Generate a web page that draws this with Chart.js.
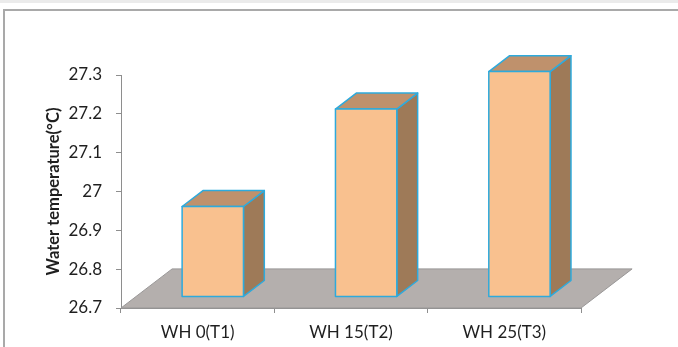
<!DOCTYPE html>
<html>
<head>
<meta charset="utf-8">
<script src="https://cdn.jsdelivr.net/npm/chart.js@4.4.1/dist/chart.umd.min.js"></script>
<style>
  html, body { margin: 0; padding: 0; background: #ffffff; }
  #wrap { position: relative; width: 678px; height: 347px; overflow: hidden; }
  #strip { position: absolute; left: 0; top: 0; width: 678px; height: 3px; background: #ebebeb; }
  #frame { position: absolute; left: 3px; top: 9px; width: 700px; height: 400px;
           border-top: 2px solid #a9a9a9; border-left: 2px solid #a9a9a9; box-sizing: border-box; }
  #chart { position: absolute; left: 0; top: 0; }
</style>
</head>
<body>
<div id="wrap">
  <div id="strip"></div>
  <div id="frame"></div>
  <canvas id="chart" width="678" height="347"></canvas>
</div>
<script>
// Water temperature per treatment
const categories = ['WH 0(T1)', 'WH 15(T2)', 'WH 25(T3)'];
const temperatures = [26.94, 27.2, 27.3];
const yTicks = [26.7, 26.8, 26.9, 27, 27.1, 27.2, 27.3];

const FONT = 'Lato, "Open Sans", sans-serif';

// Draws the grey floor and the boxed 3-D columns from the bar elements.
const depthColumns = {
  id: 'depthColumns',
  beforeDatasetsDraw(chart) {
    const xs = chart.scales.x, ys = chart.scales.y;
    const catW = (xs.right - xs.left) / categories.length;
    const fdx = catW / 3, fdy = fdx * 0.765;
    const yb = ys.bottom;
    const ctx = chart.ctx;
    ctx.save();
    ctx.beginPath();
    ctx.moveTo(xs.left, yb);
    ctx.lineTo(xs.right, yb);
    ctx.lineTo(xs.right + fdx, yb - fdy);
    ctx.lineTo(xs.left + fdx, yb - fdy);
    ctx.closePath();
    ctx.fillStyle = '#b4afad';
    ctx.fill();
    ctx.strokeStyle = '#999797';
    ctx.lineWidth = 1;
    ctx.stroke();
    ctx.restore();
  },
  afterDatasetsDraw(chart) {
    const xs = chart.scales.x, ys = chart.scales.y;
    const catW = (xs.right - xs.left) / categories.length;
    const fdx = catW / 3, fdy = fdx * 0.765;
    const yBase = ys.bottom;
    const k = 0.965;
    const ctx = chart.ctx;
    const meta = chart.getDatasetMeta(0);
    ctx.save();
    ctx.lineJoin = 'round';
    meta.data.forEach((el) => {
      const w = el.width;
      const bdx = w * 0.34, bdy = bdx * 0.765;
      const sx = (fdx - bdx) / 2, sy = (fdy - bdy) / 2;
      const x0 = el.x - w / 2 + sx, x1 = el.x + w / 2 + sx;
      const yb = yBase - sy;
      const yt = yb - (yBase - el.y) * k;
      const faces = [
        { c: '#9e7a58', p: [[x1, yb], [x1 + bdx, yb - bdy], [x1 + bdx, yt - bdy], [x1, yt]] },
        { c: '#bf916c', p: [[x0, yt], [x0 + bdx, yt - bdy], [x1 + bdx, yt - bdy], [x1, yt]] },
        { c: '#f9c18f', p: [[x0, yb], [x1, yb], [x1, yt], [x0, yt]] }
      ];
      faces.forEach(f => {
        ctx.beginPath();
        f.p.forEach((pt, i) => i ? ctx.lineTo(pt[0], pt[1]) : ctx.moveTo(pt[0], pt[1]));
        ctx.closePath();
        ctx.fillStyle = f.c;
        ctx.fill();
        ctx.strokeStyle = '#2eaadc';
        ctx.lineWidth = 1.5;
        ctx.stroke();
      });
    });
    ctx.restore();
  }
};

new Chart(document.getElementById('chart'), {
  type: 'bar',
  data: {
    labels: categories,
    datasets: [{
      data: temperatures,
      backgroundColor: 'rgba(0,0,0,0)',
      borderWidth: 0,
      barPercentage: 0.4,
      categoryPercentage: 1
    }]
  },
  options: {
    responsive: false,
    animation: false,
    events: [],
    layout: { padding: { top: 75, right: 97, bottom: 0, left: 4 } },
    plugins: { legend: { display: false }, tooltip: { enabled: false } },
    scales: {
      x: {
        grid: { drawOnChartArea: false, tickLength: 5, color: '#8e8e8e', offset: true },
        border: { display: true, color: '#8e8e8e', width: 1 },
        ticks: { color: '#1f1f1f', font: { family: FONT, size: 17 }, padding: 9, maxRotation: 0 },
        afterFit(s) { s.height = 39; }
      },
      y: {
        min: 26.7,
        max: 27.3,
        afterBuildTicks(s) { s.ticks = yTicks.map(v => ({ value: v })); },
        grid: { drawOnChartArea: false, tickLength: 5, color: '#8e8e8e' },
        border: { display: true, color: '#8e8e8e', width: 1 },
        ticks: {
          color: '#1f1f1f',
          font: { family: FONT, size: 17 },
          padding: 14,
          callback: (v) => String(Math.round(v * 10) / 10)
        },
        title: {
          display: true,
          text: 'Water temperature(°C)',
          color: '#1f1f1f',
          font: { family: FONT, size: 16.5, weight: 'bold' },
          padding: { top: 40, bottom: 0 }
        },
        afterFit(s) { s.width = 117; }
      }
    }
  },
  plugins: [depthColumns]
});
</script>
</body>
</html>
